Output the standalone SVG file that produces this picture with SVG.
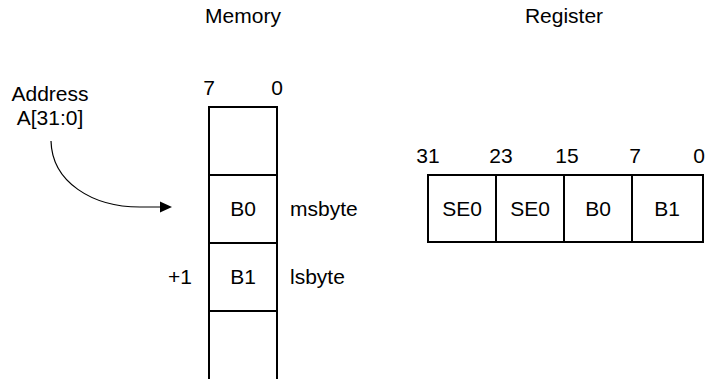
<svg xmlns="http://www.w3.org/2000/svg" width="714" height="379" viewBox="0 0 714 379">
<style>
text{font-family:"Liberation Sans",Arial,sans-serif;font-size:21px;fill:#000}
.c{text-anchor:middle}
.cell{fill:#fff;stroke:#000;stroke-width:2}
.conn{fill:none;stroke:#000;stroke-width:1.2}
</style>
<rect width="714" height="379" fill="#fff"/>
<g id="titles">
<text class="c" x="243" y="23">Memory</text>
<text class="c" x="564" y="23">Register</text>
</g>
<g id="address">
<text class="c" x="50" y="101">Address</text>
<text class="c" x="50" y="125">A[31:0]</text>
</g>
<g id="memory">
<rect class="cell" x="209" y="107" width="68" height="68"/>
<rect class="cell" x="209" y="175" width="68" height="68"/>
<rect class="cell" x="209" y="243" width="68" height="68"/>
<rect class="cell" x="209" y="311" width="68" height="90"/>
<text class="c" x="209" y="95">7</text>
<text class="c" x="277" y="95">0</text>
<text class="c" x="243" y="216">B0</text>
<text class="c" x="243" y="284">B1</text>
<text x="290" y="216">msbyte</text>
<text x="290" y="284">lsbyte</text>
<text x="168" y="284">+1</text>
</g>
<g id="register">
<rect class="cell" x="428" y="175" width="68" height="67"/>
<rect class="cell" x="496" y="175" width="68" height="67"/>
<rect class="cell" x="564" y="175" width="68" height="67"/>
<rect class="cell" x="632" y="175" width="71" height="67"/>
<text class="c" x="462" y="216">SE0</text>
<text class="c" x="530" y="216">SE0</text>
<text class="c" x="598" y="216">B0</text>
<text class="c" x="667" y="216">B1</text>
<text class="c" x="428" y="163">31</text>
<text class="c" x="501" y="163">23</text>
<text class="c" x="567" y="163">15</text>
<text class="c" x="635" y="163">7</text>
<text class="c" x="699" y="163">0</text>
</g>
<g id="connectors">
<path class="conn" d="M51,141 C52,182 92,207 140,207 H162"/>
<polygon points="160,201.5 172,207 160,212.5" fill="#000"/>
</g>
</svg>
